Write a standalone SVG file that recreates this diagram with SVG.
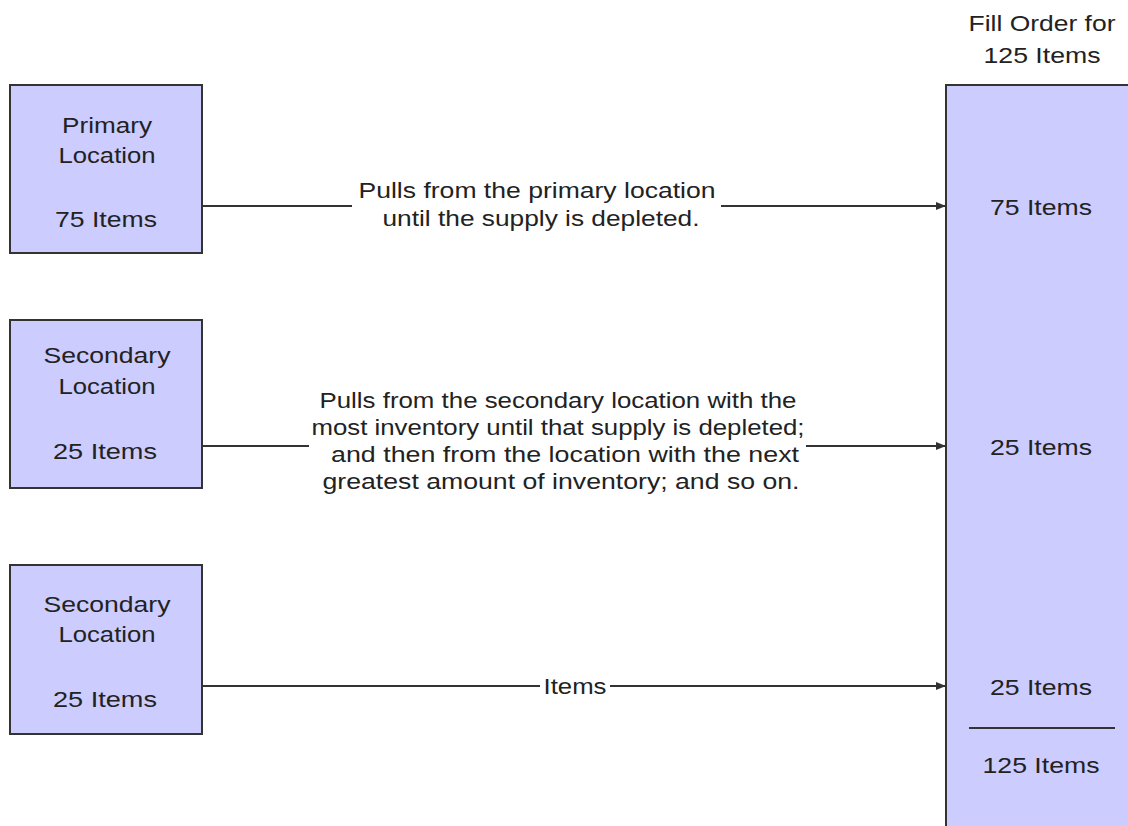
<svg xmlns="http://www.w3.org/2000/svg" width="1128" height="826" viewBox="0 0 1128 826">
<style>
.box{fill:#ccccff;stroke:#333;stroke-width:2}
.t{font-family:"Liberation Sans",Arial,sans-serif;font-size:22px;fill:#222;text-anchor:middle}
.c{stroke:#333;stroke-width:2;fill:none}
</style>
<defs>
<marker id="ah" viewBox="0 0 10 10" refX="10" refY="5" markerWidth="12" markerHeight="10" markerUnits="userSpaceOnUse" orient="auto"><path d="M0,1 L10,5 L0,9 z" fill="#333"/></marker>
</defs>
<rect width="1128" height="826" fill="#fff"/>
<g id="primary">
<rect class="box" x="10" y="85" width="192" height="168"/>
<text class="t" x="107" y="133" textLength="90" lengthAdjust="spacingAndGlyphs">Primary</text>
<text class="t" x="107" y="163" textLength="97" lengthAdjust="spacingAndGlyphs">Location</text>
<text class="t" x="106" y="227" textLength="102" lengthAdjust="spacingAndGlyphs">75 Items</text>
</g>
<g id="secondary1">
<rect class="box" x="10" y="320" width="192" height="168"/>
<text class="t" x="107" y="363" textLength="127" lengthAdjust="spacingAndGlyphs">Secondary</text>
<text class="t" x="107" y="394" textLength="97" lengthAdjust="spacingAndGlyphs">Location</text>
<text class="t" x="105" y="459" textLength="104" lengthAdjust="spacingAndGlyphs">25 Items</text>
</g>
<g id="secondary2">
<rect class="box" x="10" y="565" width="192" height="169"/>
<text class="t" x="107" y="612" textLength="127" lengthAdjust="spacingAndGlyphs">Secondary</text>
<text class="t" x="107" y="642" textLength="97" lengthAdjust="spacingAndGlyphs">Location</text>
<text class="t" x="105" y="707" textLength="104" lengthAdjust="spacingAndGlyphs">25 Items</text>
</g>
<g id="order">
<text class="t" x="1042" y="31" textLength="147" lengthAdjust="spacingAndGlyphs">Fill Order for</text>
<text class="t" x="1042" y="63" textLength="117" lengthAdjust="spacingAndGlyphs">125 Items</text>
<rect class="box" x="946" y="85" width="200" height="760"/>
<text class="t" x="1041" y="215" textLength="102" lengthAdjust="spacingAndGlyphs">75 Items</text>
<text class="t" x="1041" y="455" textLength="102" lengthAdjust="spacingAndGlyphs">25 Items</text>
<text class="t" x="1041" y="695" textLength="102" lengthAdjust="spacingAndGlyphs">25 Items</text>
<line class="c" x1="969" y1="728" x2="1115" y2="728"/>
<text class="t" x="1041" y="773" textLength="117" lengthAdjust="spacingAndGlyphs">125 Items</text>
</g>
<g id="connectors">
<line class="c" x1="202" y1="206" x2="352" y2="206"/>
<line class="c" x1="721" y1="206" x2="946" y2="206" marker-end="url(#ah)"/>
<line class="c" x1="202" y1="446" x2="309" y2="446"/>
<line class="c" x1="806" y1="446" x2="946" y2="446" marker-end="url(#ah)"/>
<line class="c" x1="202" y1="686" x2="540" y2="686"/>
<line class="c" x1="610" y1="686" x2="946" y2="686" marker-end="url(#ah)"/>
<text class="t" x="537" y="198" textLength="357" lengthAdjust="spacingAndGlyphs">Pulls from the primary location</text>
<text class="t" x="541" y="226" textLength="317" lengthAdjust="spacingAndGlyphs">until the supply is depleted.</text>
<text class="t" x="558" y="408" textLength="477" lengthAdjust="spacingAndGlyphs">Pulls from the secondary location with the</text>
<text class="t" x="558" y="435" textLength="493" lengthAdjust="spacingAndGlyphs">most inventory until that supply is depleted;</text>
<text class="t" x="565" y="462" textLength="468" lengthAdjust="spacingAndGlyphs">and then from the location with the next</text>
<text class="t" x="561" y="489" textLength="477" lengthAdjust="spacingAndGlyphs">greatest amount of inventory; and so on.</text>
<text class="t" x="575" y="694" textLength="63" lengthAdjust="spacingAndGlyphs">Items</text>
</g>
</svg>
